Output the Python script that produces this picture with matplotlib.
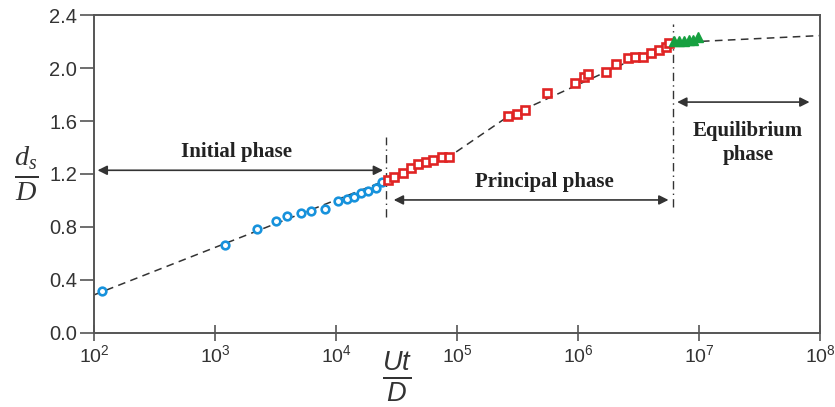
import numpy as np
import matplotlib
matplotlib.use("Agg")
import matplotlib.pyplot as plt
from matplotlib.ticker import FixedLocator, FixedFormatter

plt.rcParams['font.family'] = ['Liberation Sans', 'DejaVu Sans']
plt.rcParams['mathtext.fontset'] = 'custom'
plt.rcParams['mathtext.rm'] = 'Liberation Sans'
plt.rcParams['mathtext.it'] = 'Liberation Serif:italic'
plt.rcParams['mathtext.sf'] = 'Liberation Sans:italic'

# ---- data ----
# initial phase (blue circles)
ut_init = [116, 1210, 2220, 3190, 3940, 5140, 6210, 8110, 10400, 12300,
           14100, 16100, 18400, 21400, 24000]
ds_init = [0.317, 0.664, 0.785, 0.845, 0.883, 0.906, 0.921, 0.936, 0.996, 1.011,
           1.026, 1.057, 1.072, 1.094, 1.140]

# principal phase (red squares)
ut_prin = [26900, 30100, 35800, 41700, 47600, 55400, 63300, 75200, 85900,
           2.64e5, 3.13e5, 3.65e5, 5.54e5, 9.45e5, 1.12e6, 1.21e6, 1.70e6,
           2.06e6, 2.59e6, 2.96e6, 3.44e6, 4.01e6, 4.67e6, 5.33e6, 5.65e6]
ds_prin = [1.155, 1.177, 1.208, 1.245, 1.275, 1.291, 1.306, 1.328, 1.328,
           1.638, 1.653, 1.683, 1.811, 1.887, 1.932, 1.955, 1.970,
           2.030, 2.075, 2.083, 2.083, 2.113, 2.136, 2.158, 2.189]

# equilibrium phase (green triangles)
ut_eq = [6.21e6, 6.83e6, 7.52e6, 8.27e6, 8.92e6, 9.81e6]
ds_eq = [2.204, 2.204, 2.204, 2.211, 2.211, 2.234]

# dashed trend line
ut_fit = [100, 2.4e4, 8.6e4, 2.6e5, 5.7e6, 1e8]
ds_fit = [0.287, 1.14, 1.33, 1.63, 2.19, 2.245]

# phase boundaries
ut_bound = [2.6e4, 6.1e6]

xticks = [1e2, 1e3, 1e4, 1e5, 1e6, 1e7, 1e8]
xticklabels = [r'$\mathregular{10^{%d}}$' % k for k in range(2, 9)]
yticks = [0.0, 0.4, 0.8, 1.2, 1.6, 2.0, 2.4]

dark = '#333333'
fig = plt.figure(figsize=(8.35, 4.07), dpi=100)
ax = fig.add_axes([0.1126, 0.182, 0.8694, 0.781])

ax.plot(ut_fit, ds_fit, linestyle=(0, (5, 3.5)), color=dark, lw=1.1, zorder=1)
ax.plot(ut_init, ds_init, 'o', ms=5.5, mfc='white', mec='#1792dc', mew=1.9, zorder=3)
ax.plot(ut_prin, ds_prin, 's', ms=5.6, mfc='white', mec='#e02424', mew=1.9, zorder=3)
ax.plot(ut_eq, ds_eq, '^', ms=6.5, color='#16a040', zorder=3)

# phase boundaries
ax.plot([ut_bound[0]] * 2, [0.875, 1.48], color=dark, lw=1,
        linestyle=(0, (6, 3, 1, 3)), zorder=2)
ax.plot([ut_bound[1]] * 2, [0.95, 2.33], color=dark, lw=1,
        linestyle=(0, (6, 3, 1, 3)), zorder=2)

arrow = dict(arrowstyle='<|-|>', color=dark, lw=1.2, mutation_scale=14,
             shrinkA=0, shrinkB=0)
ax.annotate('', xy=(1.07e2, 1.228), xytext=(2.45e4, 1.228), arrowprops=arrow)
ax.annotate('', xy=(3.0e4, 1.004), xytext=(5.6e6, 1.004), arrowprops=arrow)
ax.annotate('', xy=(6.6e6, 1.743), xytext=(8.2e7, 1.743), arrowprops=arrow)

tfont = dict(family='Liberation Serif', weight='bold', fontsize=15, color='#222222',
             ha='center', va='center')
ax.text(1.5e3, 1.366, 'Initial phase', **tfont)
ax.text(5.3e5, 1.14, 'Principal phase', **tfont)
ax.text(2.55e7, 1.434, 'Equilibrium\nphase', linespacing=1.3, **tfont)

ax.set_xscale('log')
ax.set_xlim(1e2, 1e8)
ax.set_ylim(0, 2.4)
ax.xaxis.set_major_locator(FixedLocator(xticks))
ax.xaxis.set_major_formatter(FixedFormatter(xticklabels))
ax.xaxis.set_minor_locator(FixedLocator([]))
ax.set_yticks(yticks)
ax.set_yticklabels(['%.1f' % v for v in yticks])

for s in ax.spines.values():
    s.set_color('#555555')
    s.set_linewidth(1.4)
ax.tick_params(axis='x', direction='inout', length=12, width=1.2, color='#555555',
               labelsize=14, pad=2, labelcolor='#333333')
ax.tick_params(axis='y', direction='out', length=10, width=1.2, color='#555555',
               labelsize=14.5, pad=2, labelcolor='#333333')

fig.text(0.031, 0.575, r'$\frac{d_s}{D}$', fontsize=29, ha='center', va='center',
         color='#333333')
fig.text(0.475, 0.075, r'$\frac{\mathsf{Ut}}{\mathsf{D}}$', fontsize=28, ha='center',
         va='center', color='#333333')

fig.savefig('out.png', dpi=100)
